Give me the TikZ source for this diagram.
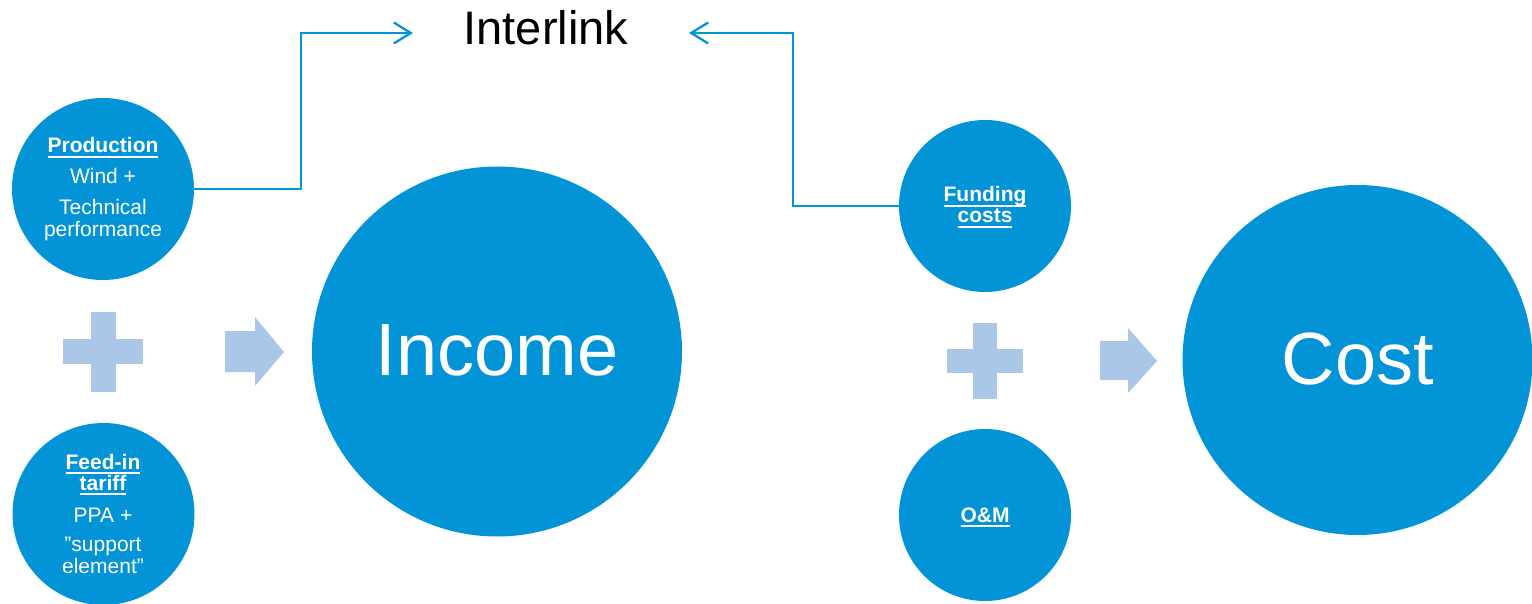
\documentclass[tikz,border=0pt]{standalone}
\usepackage{fontspec}
\setmainfont{Liberation Sans}
\usetikzlibrary{arrows.meta}
\definecolor{cblue}{RGB}{3,148,216}
\definecolor{lblue}{RGB}{171,199,232}
\newcommand\myul[1]{\setbox0\hbox{#1}\rlap{\rule[-4.8pt]{\wd0}{2pt}}\box0}
\tikzset{
  ball/.style={circle, fill=cblue, inner sep=0pt, minimum size=#1},
  txt/.style={anchor=base, inner sep=0pt, text=white, font=\fontsize{21}{25}\selectfont},
  btxt/.style={txt, font=\fontsize{21}{25}\selectfont\bfseries},
  bigtxt/.style={anchor=base, inner sep=0pt, text=white, font=\fontsize{74}{78}\selectfont},
  link/.style={draw=cblue, line width=2.3pt, -{Straight Barb[length=17pt,width=21pt]}},
  shapefill/.style={fill=lblue}
}
\begin{document}
\begin{tikzpicture}[x=1pt,y=-1pt]
\useasboundingbox (0,0) rectangle (1532,604);
% circles
\node[ball=182pt] (prod) at (103,189) {};
\node[ball=182pt] (feed) at (103.5,514) {};
\node[ball=370pt] (income) at (497,351.5) {};
\node[ball=172pt] (fund) at (985,206) {};
\node[ball=172pt] (om) at (985,515) {};
\node[ball=350pt] (cost) at (1357.5,360) {};
% texts
\node[btxt] (t1) at (103,153) {\myul{Production}};
\node[txt] (t2) at (103,184) {Wind +};
\node[txt] (t3) at (103,215) {Technical};
\node[txt] (t4) at (103,237) {performance};
\node[btxt] (t5) at (103,469) {\myul{Feed-in}};
\node[btxt] (t6) at (103,490) {\myul{tariff}};
\node[txt] (t7) at (103,522) {PPA +};
\node[txt] (t8) at (103,551) {”support};
\node[txt] (t9) at (103,573) {element”};
\node[btxt] (t10) at (985,202) {\myul{Funding}};
\node[btxt] (t11) at (985,223) {\myul{costs}};
\node[btxt] (t12) at (985,522) {\myul{O\&M}};
\node[bigtxt] (t13) at (497,375) {Income};
\node[bigtxt] (t14) at (1358,384) {Cost};
\node[anchor=base, inner sep=0pt, font=\fontsize{47}{50}\selectfont] (inter) at (546,45) {Interlink};
% plus signs
\fill[shapefill] (63,339) rectangle (143,364);
\fill[shapefill] (91,312) rectangle (116,392);
\fill[shapefill] (947,349) rectangle (1023,373);
\fill[shapefill] (973,323) rectangle (997,399);
% block arrows
\fill[shapefill] (225,331) -- (255,331) -- (255,317) -- (284,352) -- (255,386) -- (255,372) -- (225,372) -- cycle;
\fill[shapefill] (1100,341) -- (1128,341) -- (1128,328) -- (1157,361) -- (1128,393) -- (1128,380) -- (1100,380) -- cycle;
% connectors
\coordinate (inL) at (413,33);
\coordinate (inR) at (689,33);
\draw[link] (prod.east) -- ++(107,0) |- (inL);
\draw[link] (fund.west) -- ++(-106,0) |- (inR);
\end{tikzpicture}
\end{document}
